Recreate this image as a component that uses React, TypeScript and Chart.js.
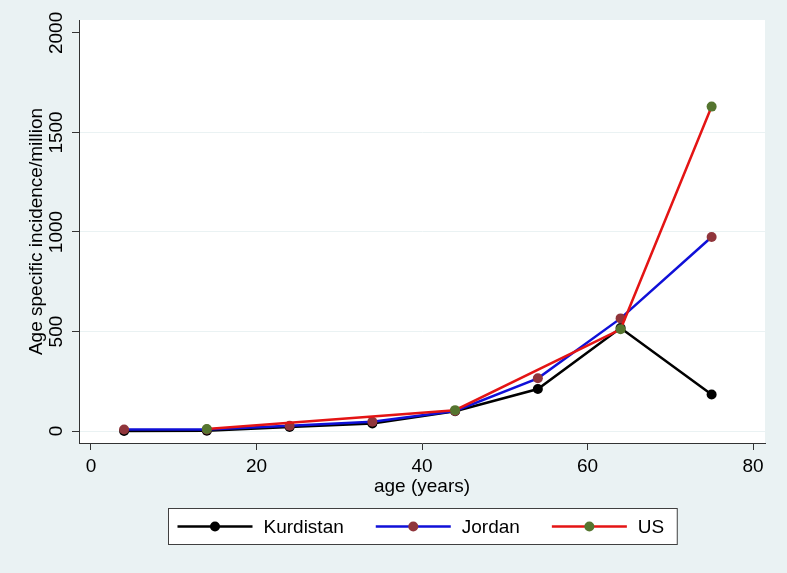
import React, { useEffect, useRef } from 'react';
import { Chart, registerables } from 'chart.js';

Chart.register(...registerables);

const ages = [4, 14, 24, 34, 44, 54, 64, 75];
const kurdistan = [0, 2, 20, 38, 100, 211, 518, 184];
const jordan = [8, 8, 27, 47, 101, 265, 566, 975];
const us: (number | null)[] = [null, 10, null, null, 105, null, 511, 1630];
const seriesNames = ['Kurdistan', 'Jordan', 'US'];
const xTicks = [0, 20, 40, 60, 80];
const yTicks = [0, 500, 1000, 1500, 2000];
const xTitle = 'age (years)';
const yTitle = 'Age specific incidence/million';

const lineColors = ['#000000', '#1010d8', '#e41414'];
const markerColors = ['#000000', '#90353b', '#55752f'];
const FONT = '"Liberation Sans", Arial, sans-serif';
const BG = '#eaf2f3';

const toPoints = (vals: (number | null)[]) => ages.map((a, i) => ({ x: a, y: vals[i] }));

export default function App() {
  const ref = useRef<HTMLCanvasElement | null>(null);

  useEffect(() => {
    if (!ref.current) return;
    const bgPlugin = {
      id: 'bgPlugin',
      beforeDraw(chart: any) {
        const { ctx, chartArea } = chart;
        ctx.save();
        ctx.fillStyle = BG;
        ctx.fillRect(0, 0, chart.width, chart.height);
        ctx.fillStyle = '#ffffff';
        ctx.fillRect(chartArea.left, chartArea.top, chartArea.right - chartArea.left, chartArea.bottom - chartArea.top);
        ctx.restore();
      },
      afterDraw(chart: any) {
        const { ctx } = chart;
        const ys = chart.scales.y;
        // rotated y tick labels
        ctx.save();
        ctx.fillStyle = '#000';
        ctx.font = `19px ${FONT}`;
        ctx.textAlign = 'center';
        ctx.textBaseline = 'alphabetic';
        yTicks.forEach((v) => {
          const py = ys.getPixelForValue(v);
          ctx.save();
          ctx.translate(62, py);
          ctx.rotate(-Math.PI / 2);
          ctx.fillText(String(v), 0, 0);
          ctx.restore();
        });
        ctx.restore();

        // legend
        ctx.save();
        ctx.font = `19px ${FONT}`;
        const padL = 9, padR = 13, lineW = 75, gapT = 11, gapItem = 32;
        const widths = seriesNames.map((n) => ctx.measureText(n).width);
        let total = padL + padR;
        widths.forEach((w, i) => {
          total += lineW + gapT + w;
          if (i < widths.length - 1) total += gapItem;
        });
        const cx = (chart.chartArea.left + chart.chartArea.right) / 2;
        const bx = Math.round(cx - total / 2) + 0.5;
        const by = 508.5;
        const bh = 36;
        ctx.fillStyle = '#ffffff';
        ctx.fillRect(bx, by, total, bh);
        ctx.strokeStyle = '#404040';
        ctx.lineWidth = 1;
        ctx.strokeRect(bx, by, total, bh);
        let x = bx + padL;
        const my = by + bh / 2;
        seriesNames.forEach((n, i) => {
          ctx.strokeStyle = lineColors[i];
          ctx.lineWidth = 2.5;
          ctx.beginPath();
          ctx.moveTo(x, my);
          ctx.lineTo(x + lineW, my);
          ctx.stroke();
          ctx.fillStyle = markerColors[i];
          ctx.beginPath();
          ctx.arc(x + lineW / 2, my, 5, 0, Math.PI * 2);
          ctx.fill();
          x += lineW + gapT;
          ctx.fillStyle = '#000';
          ctx.textAlign = 'left';
          ctx.textBaseline = 'middle';
          ctx.fillText(n, x, my + 1);
          x += widths[i] + gapItem;
        });
        ctx.restore();
      },
    };

    const mk = (i: number, vals: (number | null)[], order: number) => ({
      label: seriesNames[i],
      data: toPoints(vals),
      borderColor: lineColors[i],
      backgroundColor: markerColors[i],
      pointBackgroundColor: markerColors[i],
      pointBorderColor: markerColors[i],
      pointBorderWidth: 0,
      pointRadius: 5,
      borderWidth: 2.5,
      tension: 0,
      spanGaps: true,
      order,
    });

    const chart = new Chart(ref.current, {
      type: 'line',
      data: {
        datasets: [mk(0, kurdistan, 3), mk(1, jordan, 2), mk(2, us, 1)] as any,
      },
      options: {
        animation: false,
        responsive: false,
        devicePixelRatio: 1,
        layout: { padding: { top: 20, right: 22, left: 0, bottom: 0 } },
        plugins: { legend: { display: false }, tooltip: { enabled: false } },
        scales: {
          x: {
            type: 'linear',
            min: -1.45,
            max: 81.45,
            afterBuildTicks: (s: any) => {
              s.ticks = xTicks.map((v) => ({ value: v }));
            },
            afterFit: (s: any) => {
              s.height = 130;
            },
            ticks: {
              font: { family: FONT, size: 19 },
              color: '#000',
              padding: 5,
              maxRotation: 0,
              autoSkip: false,
            },
            grid: { drawOnChartArea: false, drawTicks: true, tickLength: 7, tickColor: '#333' },
            border: { color: '#333', width: 1 },
            title: {
              display: true,
              text: xTitle,
              color: '#000',
              font: { family: FONT, size: 19 },
              padding: { top: 0, bottom: 74.6 },
            },
          },
          y: {
            type: 'linear',
            min: -60,
            max: 2065,
            afterBuildTicks: (s: any) => {
              s.ticks = yTicks.map((v) => ({ value: v }));
            },
            afterFit: (s: any) => {
              s.width = 79;
            },
            ticks: { display: false },
            grid: {
              color: (c: any) => (c.tick && c.tick.value === 2000 ? 'rgba(0,0,0,0)' : BG),
              drawTicks: true,
              tickLength: 7,
              tickColor: '#333',
            },
            border: { color: '#333', width: 1 },
            title: {
              display: true,
              text: yTitle,
              color: '#000',
              font: { family: FONT, size: 19 },
              padding: { top: 25, bottom: 0 },
            },
          },
        },
      } as any,
      plugins: [bgPlugin],
    });
    return () => chart.destroy();
  }, []);

  return (
    <div style={{ position: 'absolute', left: 0, top: 0, width: 787, height: 573 }}>
      <canvas ref={ref} width={787} height={573} />
    </div>
  );
}
